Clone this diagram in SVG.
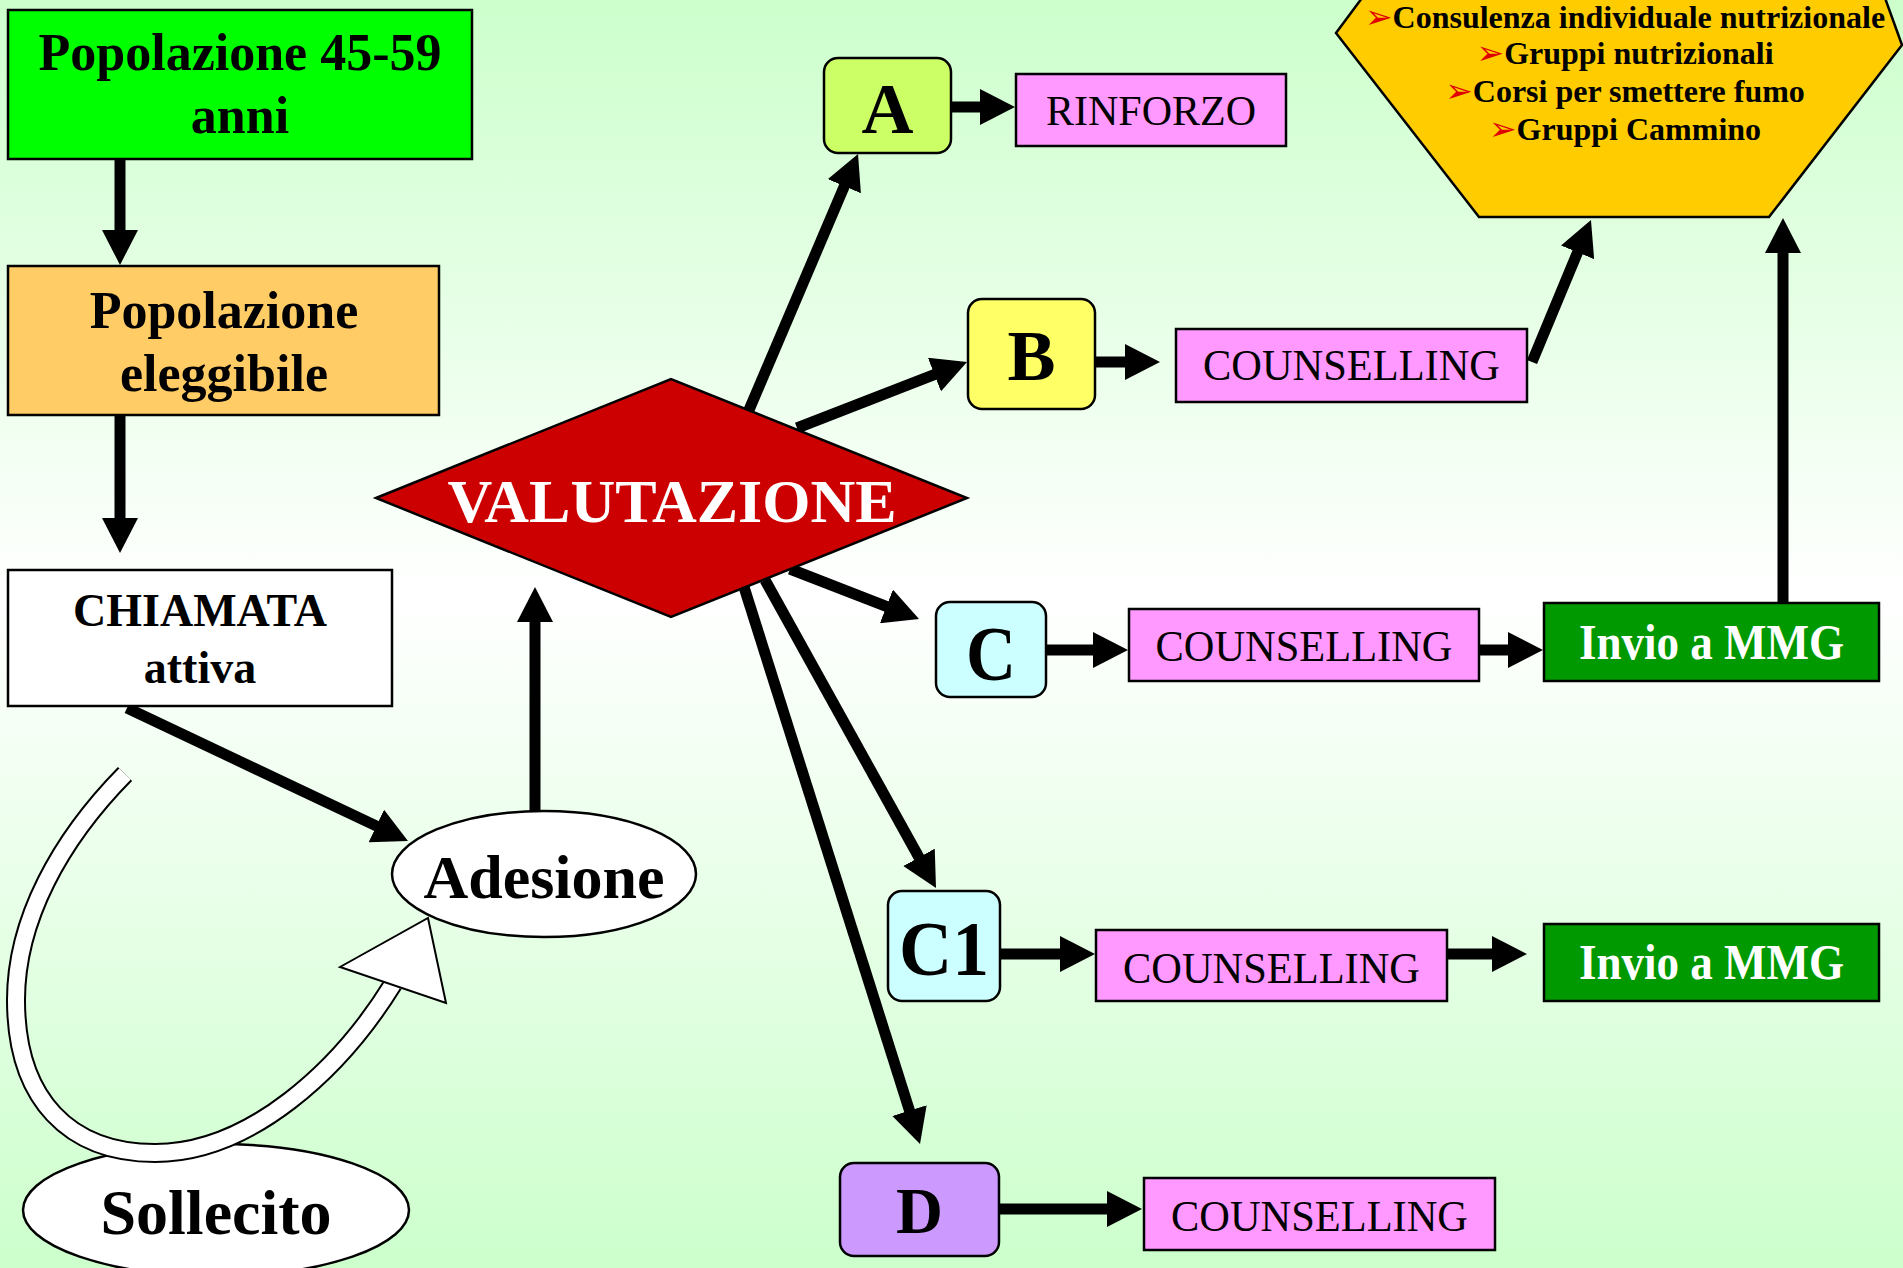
<svg xmlns="http://www.w3.org/2000/svg" width="1903" height="1268" viewBox="0 0 1903 1268">
<defs>
<linearGradient id="bg" x1="0" y1="0" x2="0" y2="1">
<stop offset="0" stop-color="#ccffcc"/>
<stop offset="0.47" stop-color="#ffffff"/>
<stop offset="1" stop-color="#ccffcc"/>
</linearGradient>
<marker id="ah" markerUnits="userSpaceOnUse" viewBox="0 0 35 36" markerWidth="35" markerHeight="36" refX="15" refY="18" orient="auto">
<path d="M0,0 L35,18 L0,36 Z" fill="#000"/>
</marker>
<style>
.t{font-family:"Liberation Serif","Times New Roman",serif;text-anchor:middle;fill:#000}
.b{font-weight:bold}
.w{fill:#fff}
.box{stroke:#000;stroke-width:2.5}
.c{stroke:#000;stroke-width:11;fill:none;marker-end:url(#ah)}
.bul{font-family:"DejaVu Sans",sans-serif;fill:#e00000;font-weight:bold;font-size:33px}
</style>
</defs>
<rect width="1903" height="1268" fill="url(#bg)"/>

<g id="sollecito">
<ellipse class="box" cx="216" cy="1210" rx="193" ry="66" fill="#fff"/>
<text class="t b" x="216" y="1234" font-size="64">Sollecito</text>
</g>

<g id="connectors">
<line class="c" x1="120" y1="150" x2="120" y2="245"/>
<line class="c" x1="120" y1="410" x2="120" y2="533"/>
<line class="c" x1="127" y1="708" x2="389.9" y2="832.4"/>
<line class="c" x1="535" y1="815" x2="535" y2="607"/>
<line class="c" x1="749" y1="410" x2="850.2" y2="172.4"/>
<line class="c" x1="797" y1="428" x2="948.4" y2="369.2"/>
<line class="c" x1="790" y1="569" x2="900.4" y2="611.8"/>
<line class="c" x1="765" y1="580" x2="926.3" y2="870.5"/>
<line class="c" x1="744" y1="587" x2="914" y2="1124.9"/>
<line class="c" x1="945" y1="107" x2="995" y2="107"/>
<line class="c" x1="1090" y1="362" x2="1140" y2="362"/>
<line class="c" x1="1040" y1="650" x2="1108" y2="650"/>
<line class="c" x1="1475" y1="650" x2="1523" y2="650"/>
<line class="c" x1="995" y1="954" x2="1075" y2="954"/>
<line class="c" x1="1443" y1="954" x2="1507" y2="954"/>
<line class="c" x1="995" y1="1209" x2="1122" y2="1209"/>
<line class="c" x1="1532" y1="362" x2="1583.3" y2="238.5"/>
<line class="c" x1="1783" y1="610" x2="1783" y2="238"/>
<g id="sollecito-arrow">
<path d="M125,774 C60,840 16,920 16,1000 C16,1100 70,1153 155,1153 C250,1153 340,1070 393,984" fill="none" stroke="#000" stroke-width="20"/>
<path d="M125,774 C60,840 16,920 16,1000 C16,1100 70,1153 155,1153 C250,1153 340,1070 393,984" fill="none" stroke="#fff" stroke-width="16"/>
<polygon points="340,967 428,918 446,1003" fill="#fff" stroke="#000" stroke-width="2"/>
</g>
</g>

<g id="pop4559">
<rect class="box" x="8" y="10" width="464" height="149" fill="#00ff00"/>
<text class="t b" x="240" y="70" font-size="52">Popolazione 45-59</text>
<text class="t b" x="240" y="133" font-size="52">anni</text>
</g>
<g id="eleggibile">
<rect class="box" x="8" y="266" width="431" height="149" fill="#ffcc66"/>
<text class="t b" x="224" y="328" font-size="52">Popolazione</text>
<text class="t b" x="224" y="391" font-size="52">eleggibile</text>
</g>
<g id="chiamata">
<rect class="box" x="8" y="570" width="384" height="136" fill="#fff"/>
<text class="t b" x="200" y="626" font-size="46">CHIAMATA</text>
<text class="t b" x="200" y="683" font-size="46">attiva</text>
</g>
<g id="adesione">
<ellipse class="box" cx="544" cy="874" rx="152" ry="63" fill="#fff"/>
<text class="t b" x="544" y="898" font-size="62">Adesione</text>
</g>
<g id="valutazione">
<polygon class="box" points="376,498 671,379 967,498 671,617" fill="#cc0000"/>
<text class="t b w" x="672" y="522" font-size="62">VALUTAZIONE</text>
</g>
<g id="A">
<rect class="box" x="824" y="58" width="127" height="95" rx="14" fill="#ccff66"/>
<text class="t b" x="887.5" y="133" font-size="72">A</text>
</g>
<g id="rinforzo">
<rect class="box" x="1016" y="74" width="270" height="72" fill="#ff99ff"/>
<text class="t" x="1151" y="125" font-size="42">RINFORZO</text>
</g>
<g id="B">
<rect class="box" x="968" y="299" width="127" height="110" rx="14" fill="#ffff66"/>
<text class="t b" x="1031.5" y="380" font-size="72">B</text>
</g>
<g id="counsB">
<rect class="box" x="1176" y="329" width="351" height="73" fill="#ff99ff"/>
<text class="t" x="1351.5" y="380" font-size="44" textLength="297" lengthAdjust="spacingAndGlyphs">COUNSELLING</text>
</g>
<g id="C">
<rect class="box" x="936" y="602" width="110" height="95" rx="14" fill="#ccffff"/>
<text class="t b" x="991" y="680" font-size="78" textLength="50" lengthAdjust="spacingAndGlyphs">C</text>
</g>
<g id="counsC">
<rect class="box" x="1129" y="609" width="350" height="72" fill="#ff99ff"/>
<text class="t" x="1304" y="661" font-size="44" textLength="297" lengthAdjust="spacingAndGlyphs">COUNSELLING</text>
</g>
<g id="mmgC">
<rect class="box" x="1544" y="603" width="335" height="78" fill="#009900"/>
<text class="t b w" x="1711.5" y="659" font-size="50" textLength="265" lengthAdjust="spacingAndGlyphs">Invio a MMG</text>
</g>
<g id="C1">
<rect class="box" x="888" y="891" width="112" height="110" rx="14" fill="#ccffff"/>
<text class="t b" x="944" y="975" font-size="78" textLength="90" lengthAdjust="spacingAndGlyphs">C1</text>
</g>
<g id="counsC1">
<rect class="box" x="1096" y="930" width="351" height="71" fill="#ff99ff"/>
<text class="t" x="1271.5" y="983" font-size="44" textLength="297" lengthAdjust="spacingAndGlyphs">COUNSELLING</text>
</g>
<g id="mmgC1">
<rect class="box" x="1544" y="924" width="335" height="77" fill="#009900"/>
<text class="t b w" x="1711.5" y="979" font-size="50" textLength="265" lengthAdjust="spacingAndGlyphs">Invio a MMG</text>
</g>
<g id="D">
<rect class="box" x="840" y="1163" width="159" height="93" rx="14" fill="#cc99ff"/>
<text class="t b" x="919.5" y="1233" font-size="65">D</text>
</g>
<g id="counsD">
<rect class="box" x="1144" y="1178" width="351" height="72" fill="#ff99ff"/>
<text class="t" x="1319.5" y="1231" font-size="44" textLength="297" lengthAdjust="spacingAndGlyphs">COUNSELLING</text>
</g>
<g id="interventi">
<polygon class="box" points="1336,33 1479,217 1769,217 1902,45 1885,-2 1362,-2" fill="#ffcc00"/>
<text class="t b" x="1625" y="28" font-size="32"><tspan class="bul">➢</tspan>Consulenza individuale nutrizionale</text>
<text class="t b" x="1625" y="64" font-size="32"><tspan class="bul">➢</tspan>Gruppi nutrizionali</text>
<text class="t b" x="1625" y="102" font-size="32"><tspan class="bul">➢</tspan>Corsi per smettere fumo</text>
<text class="t b" x="1625" y="140" font-size="32"><tspan class="bul">➢</tspan>Gruppi Cammino</text>
</g>
</svg>
